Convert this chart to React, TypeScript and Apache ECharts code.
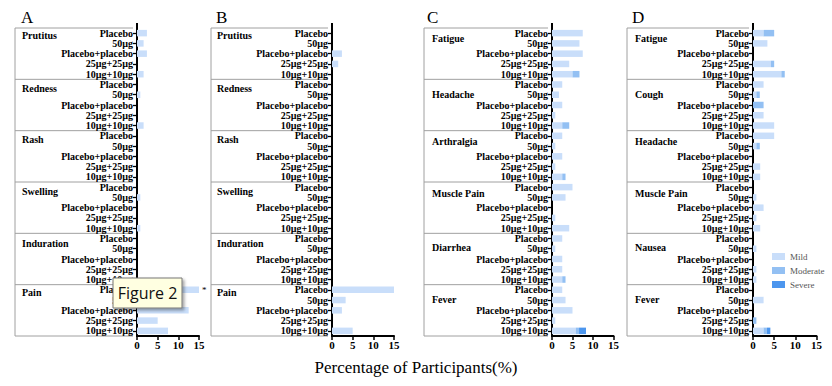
import React, { useEffect, useRef } from 'react';
import * as echarts from 'echarts';

// ---------- data ----------
const rowLabels = ['Placebo', '50µg', 'Placebo+placebo', '25µg+25µg', '10µg+10µg'];
const groupsA = ['Prutitus', 'Redness', 'Rash', 'Swelling', 'Induration', 'Pain'];
const groupsB = ['Prutitus', 'Redness', 'Rash', 'Swelling', 'Induration', 'Pain'];
const groupsC = ['Fatigue', 'Headache', 'Arthralgia', 'Muscle Pain', 'Diarrhea', 'Fever'];
const groupsD = ['Fatigue', 'Cough', 'Headache', 'Muscle Pain', 'Nausea', 'Fever'];
const severities = ['Mild', 'Moderate', 'Severe'];
const xTicks = [0, 5, 10, 15];
const xTitle = 'Percentage of Participants(%)';
const panelLetters = ['A', 'B', 'C', 'D'];

// Panel A (local reactions)
const mildA = [
  2.4, 1.6, 2.4, 0, 1.6,
  0, 0.8, 0, 0, 1.6,
  0, 0, 0, 0, 0,
  0, 0.8, 0, 0, 0.8,
  0, 0, 0, 0, 0,
  15, 3.3, 12.5, 5, 7.5,
];
const moderateA = new Array(30).fill(0);
const severeA = new Array(30).fill(0);

// Panel B (local reactions)
const mildB = [
  0, 0, 2.4, 1.5, 0,
  0, 0, 0, 0, 0,
  0, 0, 0, 0, 0,
  0, 0, 0, 0, 0,
  0, 0, 0, 0, 0,
  15, 3.3, 2.4, 0, 5,
];
const moderateB = new Array(30).fill(0);
const severeB = new Array(30).fill(0);

// Panel C (systemic reactions)
const mildC = [
  7.5, 6.7, 7.5, 4.2, 5.0,
  2.5, 1.7, 2.5, 0.8, 2.5,
  2.5, 0.8, 2.5, 0.8, 2.5,
  5.0, 3.3, 0, 0.8, 4.2,
  2.5, 0.8, 2.5, 2.5, 2.5,
  2.5, 3.3, 5.0, 0.8, 5.8,
];
const moderateC = [
  0, 0, 0, 0, 1.7,
  0, 0, 0, 0, 1.7,
  0, 0, 0, 0, 0.8,
  0, 0, 0, 0, 0,
  0, 0, 0, 0, 0.8,
  0, 0, 0, 0, 0.8,
];
const severeC = [
  0, 0, 0, 0, 0,
  0, 0, 0, 0, 0,
  0, 0, 0, 0, 0,
  0, 0, 0, 0, 0,
  0, 0, 0, 0, 0,
  0, 0, 0, 0, 1.7,
];

// Panel D (systemic reactions)
const mildD = [
  2.5, 3.4, 0, 4.2, 6.7,
  2.5, 0.8, 0, 2.5, 5.0,
  5.0, 0.8, 0, 1.7, 1.7,
  0, 0.8, 2.5, 0.8, 1.7,
  0, 0.8, 0, 0.8, 0.8,
  0, 2.5, 0, 0, 2.5,
];
const moderateD = [
  2.5, 0, 0, 0.8, 0.8,
  0, 0.8, 2.5, 0, 0,
  0, 0.8, 0, 0, 0,
  0, 0, 0, 0, 0,
  0, 0, 0, 0, 0,
  0, 0, 0, 0.8, 0.8,
];
const severeD = [
  0, 0, 0, 0, 0,
  0, 0, 0, 0, 0,
  0, 0, 0, 0, 0,
  0, 0, 0, 0, 0,
  0, 0, 0, 0, 0,
  0, 0, 0, 0, 0.8,
];

// ---------- layout / style ----------
const colors = ['#c9defa', '#93c0f3', '#4c96ee'];
const SERIF = '"Liberation Serif", "Times New Roman", serif';
const GRID_TOP = 28;
const GRID_H = 308;
const ROWS = 30;
const ROW_H = GRID_H / ROWS;

const panels = [
  { axisX: 137, w: 62, boxLeft: 15, letterX: 21, glx: 22, groups: groupsA, data: [mildA, moderateA, severeA], gOff: [0.71, 0.86, 0.9, 0.92, 1.0, 0.76] },
  { axisX: 332, w: 62, boxLeft: 211, letterX: 216, glx: 217, groups: groupsB, data: [mildB, moderateB, severeB], gOff: [0.71, 0.86, 0.9, 0.92, 1.0, 0.76] },
  { axisX: 552, w: 61.5, boxLeft: 424, letterX: 427, glx: 432, groups: groupsC, data: [mildC, moderateC, severeC], gOff: [1.05, 1.44, 1.1, 1.15, 1.4, 1.44] },
  { axisX: 753, w: 63.5, boxLeft: 627, letterX: 632, glx: 635, groups: groupsD, data: [mildD, moderateD, severeD], gOff: [1.05, 1.44, 1.1, 1.15, 1.4, 1.44] },
];

function buildOption() {
  const grid: any[] = [];
  const xAxis: any[] = [];
  const yAxis: any[] = [];
  const series: any[] = [];
  const graphic: any[] = [];
  const cats = Array.from({ length: ROWS }, (_, i) => String(i));

  panels.forEach((p, pi) => {
    grid.push({ left: p.axisX, top: GRID_TOP, width: p.w, height: GRID_H, containLabel: false });
    xAxis.push({
      gridIndex: pi,
      type: 'value',
      min: xTicks[0],
      max: xTicks[xTicks.length - 1],
      interval: xTicks[1] - xTicks[0],
      axisLine: { show: true, lineStyle: { color: '#000', width: 2 } },
      axisTick: { show: true, length: 4, lineStyle: { color: '#000', width: 1.5 } },
      splitLine: { show: false },
      axisLabel: { color: '#000', fontFamily: SERIF, fontWeight: 'bold', fontSize: 11, margin: 3 },
    });
    yAxis.push({
      gridIndex: pi,
      type: 'category',
      inverse: true,
      data: cats,
      axisLine: { show: true, lineStyle: { color: '#000', width: 2 } },
      axisTick: { show: true, alignWithLabel: true, interval: 0, length: 4, lineStyle: { color: '#000', width: 1.3 } },
      axisLabel: {
        interval: 0,
        margin: 4,
        color: '#000',
        fontFamily: SERIF,
        fontWeight: 'bold',
        fontSize: 10,
        formatter: (v: string) => rowLabels[Number(v) % 5],
      },
      splitLine: { show: false },
    });
    p.data.forEach((arr, si) => {
      series.push({
        type: 'bar',
        name: severities[si],
        xAxisIndex: pi,
        yAxisIndex: pi,
        stack: 'panel' + pi,
        barWidth: 6.5,
        itemStyle: { color: colors[si] },
        data: arr.map((v, i) =>
          pi === 0 && si === 0 && i === 25
            ? { value: v, label: { show: true, position: 'right', distance: 3, formatter: '*', fontSize: 9, color: '#000', fontFamily: SERIF } }
            : v
        ),
      });
    });

    // box around labels
    const boxRight = p.axisX - 4;
    const lineStyle = { stroke: '#a0a0a0', lineWidth: 1 };
    graphic.push({ type: 'line', shape: { x1: p.boxLeft, y1: GRID_TOP, x2: p.boxLeft, y2: GRID_TOP + GRID_H }, style: lineStyle, silent: true });
    for (let g = 0; g <= 6; g++) {
      const y = GRID_TOP + g * 5 * ROW_H;
      graphic.push({ type: 'line', shape: { x1: p.boxLeft, y1: y, x2: boxRight, y2: y }, style: lineStyle, silent: true });
    }
    // extend y axis above the grid
    graphic.push({ type: 'line', shape: { x1: p.axisX, y1: GRID_TOP - 5, x2: p.axisX, y2: GRID_TOP }, style: { stroke: '#000', lineWidth: 2 }, silent: true });
    // group labels
    p.groups.forEach((name, g) => {
      graphic.push({
        type: 'text',
        x: p.glx,
        y: GRID_TOP + (g * 5 + p.gOff[g]) * ROW_H,
        silent: true,
        style: {
          text: name,
          fill: '#000',
          font: 'bold 10px ' + SERIF,
          align: 'left',
          verticalAlign: 'middle',
          textAlign: 'left',
          textVerticalAlign: 'middle',
        },
      });
    });
    // panel letter
    graphic.push({
      type: 'text',
      x: p.letterX,
      y: 17,
      silent: true,
      style: {
        text: panelLetters[pi],
        fill: '#000',
        font: '17px ' + SERIF,
        align: 'left',
        verticalAlign: 'middle',
        textAlign: 'left',
        textVerticalAlign: 'middle',
      },
    });
  });

  // x axis title
  graphic.push({
    type: 'text',
    x: 416,
    y: 367,
    silent: true,
    style: {
      text: xTitle,
      fill: '#000',
      font: '17px ' + SERIF,
      align: 'center',
      verticalAlign: 'middle',
      textAlign: 'center',
      textVerticalAlign: 'middle',
    },
  });

  // hover caption box seen in the reference
  graphic.push({
    type: 'rect',
    z: 100,
    shape: { x: 113, y: 278, width: 69, height: 30 },
    style: { fill: '#ffffe1', stroke: '#767676', lineWidth: 1, shadowBlur: 3, shadowOffsetX: 2, shadowOffsetY: 2, shadowColor: 'rgba(0,0,0,0.35)' },
  });
  graphic.push({
    type: 'text',
    z: 101,
    x: 147.5,
    y: 293,
    style: {
      text: 'Figure 2',
      fill: '#111',
      font: '16px "Open Sans", "Noto Sans", sans-serif',
      align: 'center',
      verticalAlign: 'middle',
      textAlign: 'center',
      textVerticalAlign: 'middle',
    },
  });

  return {
    animation: false,
    backgroundColor: '#fff',
    grid,
    xAxis,
    yAxis,
    series,
    graphic,
    legend: {
      data: severities,
      orient: 'vertical',
      left: 767,
      top: 246,
      icon: 'rect',
      itemWidth: 13,
      itemHeight: 7,
      itemGap: 3,
      textStyle: { fontFamily: SERIF, fontSize: 9, color: '#555', lineHeight: 11 },
    },
  };
}

export default function App() {
  const ref = useRef<HTMLDivElement>(null);
  useEffect(() => {
    if (!ref.current) return;
    const chart = echarts.init(ref.current, undefined, { renderer: 'svg' });
    chart.setOption(buildOption() as any);
    return () => chart.dispose();
  }, []);
  return <div ref={ref} style={{ position: 'fixed', left: 0, top: 0, width: 832, height: 386 }} />;
}
